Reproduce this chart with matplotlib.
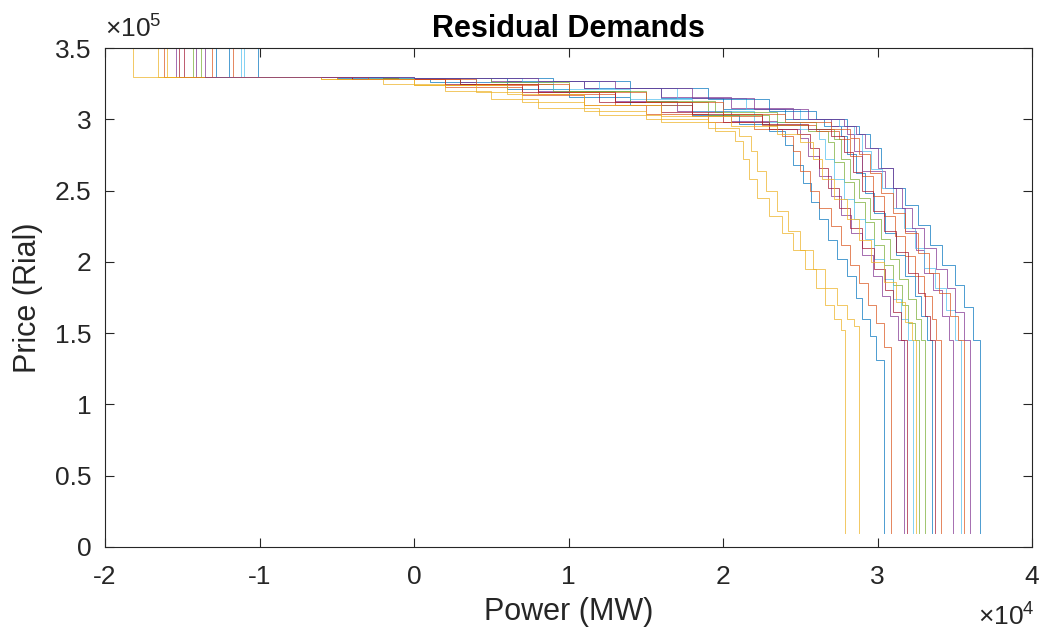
import matplotlib
matplotlib.use("Agg")
import matplotlib.pyplot as plt
from matplotlib.ticker import FuncFormatter

plt.rcParams['font.family'] = ['Liberation Sans', 'DejaVu Sans']
plt.rcParams['mathtext.fontset'] = 'custom'
plt.rcParams['mathtext.rm'] = 'Liberation Sans'
plt.rcParams['mathtext.it'] = 'Liberation Sans:italic'
plt.rcParams['mathtext.bf'] = 'Liberation Sans:bold'

title = "Residual Demands"
xlabel = "Power (MW)"
ylabel = "Price (Rial)"
x_ticks = [-2, -1, 0, 1, 2, 3, 4]          # x 10^4 MW
y_ticks = [0, 0.5, 1, 1.5, 2, 2.5, 3, 3.5]  # x 10^5 Rial

# MATLAB default colour order
colors = ["#0072BD", "#D95319", "#EDB120", "#7E2F8E", "#77AC30", "#4DBEEE", "#A2142F"]

# all power values in 10^4 MW, prices in 10^5 Rial
top_price = 3.5
cap_price = 3.3
floor_price = 0.1
start_power = [-1.01, -1.31, -1.82, -1.54, -1.43, -1.12, -1.49, -1.20, -1.62,
               -1.60, -1.41, -1.38, -1.10, -1.52, -1.28, -1.17, -1.66, -1.35]
end_power = [3.04, 3.09, 2.79, 3.17, 3.27, 3.23, 3.19, 3.35, 3.41,
             2.88, 3.49, 3.31, 3.54, 3.37, 3.66, 3.56, 3.25, 3.60]

step_power = [
    [-0.5, 0.1, 0.6, 1.0, 1.4, 1.8, 2.1, 2.3, 2.4, 2.45, 2.52, 2.57, 2.62, 2.68, 2.74, 2.8, 2.86, 2.9, 2.95, 2.99],
    [-0.4, 0.2, 0.7, 1.1, 1.5, 1.9, 2.2, 2.38, 2.45, 2.5, 2.56, 2.62, 2.7, 2.76, 2.82, 2.88, 2.94, 2.99, 3.04],
    [-0.6, -0.2, 0.2, 0.5, 0.8, 1.2, 1.6, 1.95, 2.08, 2.13, 2.17, 2.22, 2.3, 2.38, 2.45, 2.53, 2.6, 2.66, 2.72, 2.76],
    [-0.3, 0.3, 0.8, 1.3, 1.7, 2.05, 2.35, 2.5, 2.55, 2.62, 2.7, 2.76, 2.83, 2.9, 2.97, 3.03, 3.08, 3.13],
    [-0.3, 0.3, 0.9, 1.4, 1.9, 2.3, 2.55, 2.68, 2.72, 2.78, 2.85, 2.92, 2.98, 3.04, 3.1, 3.16, 3.2, 3.24],
    [-0.3, 0.4, 0.9, 1.4, 1.8, 2.2, 2.5, 2.62, 2.66, 2.72, 2.78, 2.85, 2.92, 2.98, 3.04, 3.1, 3.15, 3.2],
    [-0.4, 0.2, 0.7, 1.2, 1.6, 2.0, 2.3, 2.48, 2.56, 2.62, 2.68, 2.75, 2.82, 2.9, 2.98, 3.05, 3.1, 3.15],
    [-0.2, 0.6, 1.1, 1.6, 2.0, 2.4, 2.65, 2.76, 2.8, 2.86, 2.92, 2.98, 3.05, 3.12, 3.18, 3.24, 3.28, 3.32],
    [-0.5, 0.2, 0.8, 1.3, 1.8, 2.25, 2.6, 2.75, 2.82, 2.9, 2.97, 3.04, 3.11, 3.18, 3.24, 3.3, 3.35, 3.38],
    [-0.5, 0.0, 0.4, 0.7, 1.1, 1.5, 1.9, 2.1, 2.18, 2.22, 2.28, 2.35, 2.42, 2.5, 2.58, 2.66, 2.74, 2.8, 2.85],
    [-0.2, 0.5, 1.1, 1.6, 2.05, 2.45, 2.7, 2.8, 2.85, 2.9, 3.05, 3.12, 3.18, 3.25, 3.3, 3.36, 3.42, 3.46],
    [-0.2, 0.5, 1.0, 1.5, 1.95, 2.35, 2.6, 2.72, 2.76, 2.82, 2.88, 2.95, 3.02, 3.08, 3.14, 3.2, 3.25, 3.28],
    [-0.1, 0.7, 1.2, 1.7, 2.15, 2.5, 2.75, 2.85, 2.9, 2.96, 3.03, 3.1, 3.17, 3.24, 3.3, 3.37, 3.44, 3.5],
    [-0.4, 0.3, 0.8, 1.3, 1.8, 2.25, 2.55, 2.7, 2.78, 2.84, 2.9, 2.97, 3.04, 3.12, 3.2, 3.26, 3.31, 3.34],
    [0.0, 0.9, 1.4, 1.9, 2.3, 2.6, 2.8, 2.88, 2.95, 3.02, 3.1, 3.18, 3.26, 3.34, 3.42, 3.5, 3.56, 3.62],
    [-0.3, 0.4, 1.0, 1.5, 2.0, 2.4, 2.7, 2.82, 2.88, 2.95, 3.02, 3.1, 3.18, 3.26, 3.33, 3.4, 3.47, 3.52],
    [-0.6, 0.0, 0.6, 1.1, 1.6, 2.05, 2.35, 2.5, 2.58, 2.64, 2.72, 2.8, 2.88, 2.96, 3.04, 3.12, 3.18, 3.22],
    [0.0, 0.8, 1.3, 1.8, 2.2, 2.55, 2.78, 2.86, 2.92, 3.0, 3.1, 3.16, 3.22, 3.3, 3.38, 3.45, 3.5, 3.56],
]
step_price = [
    [3.29, 3.26, 3.21, 3.16, 3.10, 3.03, 2.97, 2.92, 2.82, 2.68, 2.55, 2.42, 2.30, 2.15, 2.02, 1.90, 1.75, 1.60, 1.48, 1.31],
    [3.28, 3.23, 3.17, 3.10, 3.04, 2.98, 2.93, 2.88, 2.78, 2.64, 2.50, 2.38, 2.25, 2.12, 1.98, 1.85, 1.70, 1.57, 1.40],
    [3.28, 3.25, 3.20, 3.14, 3.08, 3.03, 2.98, 2.92, 2.85, 2.72, 2.58, 2.45, 2.32, 2.20, 2.08, 1.95, 1.82, 1.70, 1.60, 1.52],
    [3.29, 3.26, 3.20, 3.13, 3.06, 2.99, 2.93, 2.87, 2.74, 2.60, 2.46, 2.33, 2.20, 2.05, 1.90, 1.76, 1.62, 1.45],
    [3.29, 3.25, 3.20, 3.12, 3.03, 2.96, 2.92, 2.84, 2.70, 2.56, 2.42, 2.28, 2.12, 1.98, 1.84, 1.70, 1.57, 1.45],
    [3.29, 3.26, 3.21, 3.14, 3.06, 2.98, 2.93, 2.86, 2.72, 2.58, 2.44, 2.30, 2.16, 2.02, 1.88, 1.74, 1.60, 1.45],
    [3.28, 3.25, 3.19, 3.12, 3.05, 2.98, 2.93, 2.90, 2.80, 2.66, 2.52, 2.38, 2.24, 2.10, 1.95, 1.80, 1.65, 1.45],
    [3.29, 3.27, 3.22, 3.15, 3.07, 3.00, 2.95, 2.88, 2.76, 2.62, 2.48, 2.34, 2.20, 2.05, 1.90, 1.76, 1.62, 1.45],
    [3.28, 3.24, 3.18, 3.10, 3.02, 2.96, 2.92, 2.86, 2.74, 2.60, 2.46, 2.32, 2.18, 2.04, 1.90, 1.76, 1.60, 1.45],
    [3.28, 3.24, 3.19, 3.12, 3.06, 3.00, 2.94, 2.88, 2.78, 2.64, 2.50, 2.36, 2.22, 2.08, 1.95, 1.82, 1.70, 1.60, 1.55],
    [3.29, 3.27, 3.22, 3.16, 3.08, 3.00, 2.95, 2.90, 2.78, 2.64, 2.52, 2.38, 2.22, 2.08, 1.92, 1.80, 1.62, 1.45],
    [3.29, 3.26, 3.20, 3.13, 3.05, 2.98, 2.93, 2.86, 2.72, 2.58, 2.45, 2.30, 2.16, 2.02, 1.88, 1.74, 1.60, 1.45],
    [3.29, 3.27, 3.22, 3.15, 3.07, 3.00, 2.95, 2.90, 2.78, 2.65, 2.52, 2.38, 2.24, 2.10, 1.96, 1.82, 1.66, 1.45],
    [3.28, 3.25, 3.19, 3.12, 3.04, 2.97, 2.93, 2.88, 2.77, 2.63, 2.50, 2.36, 2.22, 2.07, 1.92, 1.78, 1.62, 1.45],
    [3.29, 3.27, 3.22, 3.14, 3.06, 3.00, 2.95, 2.90, 2.80, 2.66, 2.52, 2.40, 2.26, 2.12, 1.98, 1.84, 1.68, 1.45],
    [3.28, 3.25, 3.19, 3.12, 3.04, 2.98, 2.93, 2.87, 2.76, 2.62, 2.48, 2.34, 2.20, 2.06, 1.92, 1.78, 1.62, 1.45],
    [3.28, 3.24, 3.18, 3.10, 3.02, 2.95, 2.90, 2.84, 2.72, 2.58, 2.44, 2.30, 2.15, 2.00, 1.86, 1.72, 1.58, 1.45],
    [3.29, 3.27, 3.22, 3.15, 3.07, 3.00, 2.95, 2.90, 2.80, 2.66, 2.52, 2.38, 2.24, 2.10, 1.95, 1.82, 1.65, 1.45],
]

fig = plt.figure(figsize=(10.44, 6.37), dpi=100)
ax = fig.add_axes([0.1006, 0.1413, 0.888, 0.7833])

for i in range(len(start_power)):
    xs = [start_power[i], start_power[i]] + step_power[i] + [end_power[i]]
    ys = [top_price, cap_price] + step_price[i] + [floor_price]
    ax.step(xs, ys, where='post', color=colors[i % 7], lw=0.7, alpha=0.7)

ax.set_xlim(-2, 4)
ax.set_ylim(0, 3.5)
ax.set_xticks(x_ticks)
ax.set_yticks(y_ticks)
fmt = FuncFormatter(lambda v, p: f"{v:g}")
ax.xaxis.set_major_formatter(fmt)
ax.yaxis.set_major_formatter(fmt)

tc = "#262626"
ax.tick_params(direction='in', length=6.5, width=0.8, labelsize=19, colors=tc,
               top=True, right=True)
ax.tick_params(axis='x', pad=13)
ax.tick_params(axis='y', pad=10)
for s in ax.spines.values():
    s.set_color(tc)
    s.set_linewidth(0.8)

ax.set_title(title, fontsize=22, fontweight='bold', color='black', pad=8)
ax.set_xlabel(xlabel, fontsize=22, color=tc, labelpad=6)
ax.set_ylabel(ylabel, fontsize=22, color=tc, labelpad=8)

ax.text(0.0, 1.01, r"$\times\mathregular{10^5}$", transform=ax.transAxes,
        fontsize=19, color=tc, ha='left', va='bottom')
ax.text(1.003, -0.113, r"$\times\mathregular{10^4}$", transform=ax.transAxes,
        fontsize=19, color=tc, ha='right', va='top')

fig.savefig("out.png", dpi=100, facecolor='white')
